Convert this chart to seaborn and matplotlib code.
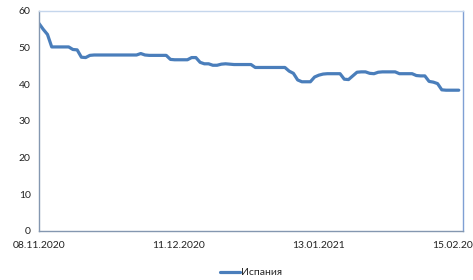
import numpy as np
import pandas as pd
import matplotlib
matplotlib.use("Agg")
import matplotlib.pyplot as plt
import matplotlib.dates as mdates
import seaborn as sns

# daily values, 08.11.2020 .. 15.02.2021
start_date = "2020-11-08"
series_name = "Испания"
values = [
    56.6, 55.0, 53.6, 50.2, 50.2, 50.2, 50.2, 50.2, 49.5, 49.4,
    47.4, 47.3, 47.9, 48.0, 48.0, 48.0, 48.0, 48.0, 48.0, 48.0,
    48.0, 48.0, 48.0, 48.0, 48.4, 48.0, 47.9, 47.9, 47.9, 47.9,
    47.9, 46.8, 46.7, 46.7, 46.7, 46.7, 47.3, 47.3, 46.0, 45.6,
    45.6, 45.2, 45.2, 45.5, 45.6, 45.5, 45.4, 45.4, 45.4, 45.4,
    45.4, 44.6, 44.6, 44.6, 44.6, 44.6, 44.6, 44.6, 44.6, 43.6,
    43.0, 41.2, 40.7, 40.7, 40.7, 42.0, 42.5, 42.8, 42.9, 42.9,
    42.9, 42.9, 41.4, 41.3, 42.3, 43.3, 43.4, 43.4, 43.0, 42.9,
    43.3, 43.4, 43.4, 43.4, 43.4, 42.9, 42.9, 42.9, 42.9, 42.4,
    42.3, 42.3, 40.8, 40.6, 40.2, 38.5, 38.4, 38.4, 38.4, 38.4,
]
tick_dates = ["2020-11-08", "2020-12-11", "2021-01-13", "2021-02-15"]
y_ticks = [0, 10, 20, 30, 40, 50, 60]

df = pd.DataFrame({
    "date": pd.date_range(start_date, periods=len(values), freq="D"),
    "value": values,
    "country": series_name,
})

sns.set_theme(style="white")
plt.rcParams["font.family"] = ["Lato", "DejaVu Sans"]

fig = plt.figure(figsize=(4.73, 2.80), dpi=100)
ax = fig.add_axes([39 / 473, 49 / 280, 424 / 473, 220 / 280])

sns.lineplot(data=df, x="date", y="value", hue="country",
             palette=["#4A7EBB"], linewidth=2.3, ax=ax, legend=True)

ax.set_xlim(pd.Timestamp(start_date), pd.Timestamp(start_date) + pd.Timedelta(days=100))
ax.set_ylim(0, 60)
ax.set_yticks(y_ticks)
ax.set_xticks(pd.to_datetime(tick_dates))
ax.xaxis.set_major_formatter(mdates.DateFormatter("%d.%m.%Y"))
ax.tick_params(axis="both", labelsize=7.5, colors="#222222", length=3, width=0.8,
               direction="out", pad=3)
ax.tick_params(axis="x", colors="#8497B0", labelcolor="#222222", pad=4)
ax.tick_params(axis="y", colors="#8497B0", labelcolor="#222222")
ax.set_xlabel("")
ax.set_ylabel("")
ax.grid(False)

ax.spines["left"].set_color("#8497B0")
ax.spines["bottom"].set_color("#8497B0")
ax.spines["top"].set_color("#C5D6EC")
ax.spines["right"].set_color("#7F9FD4")
for s in ax.spines.values():
    s.set_linewidth(1.0)

leg = ax.legend(loc="upper center", bbox_to_anchor=(0.5, -0.125), frameon=False,
                fontsize=7.5, handlelength=2.0, handletextpad=0.1)

fig.savefig("out.png", dpi=100)
